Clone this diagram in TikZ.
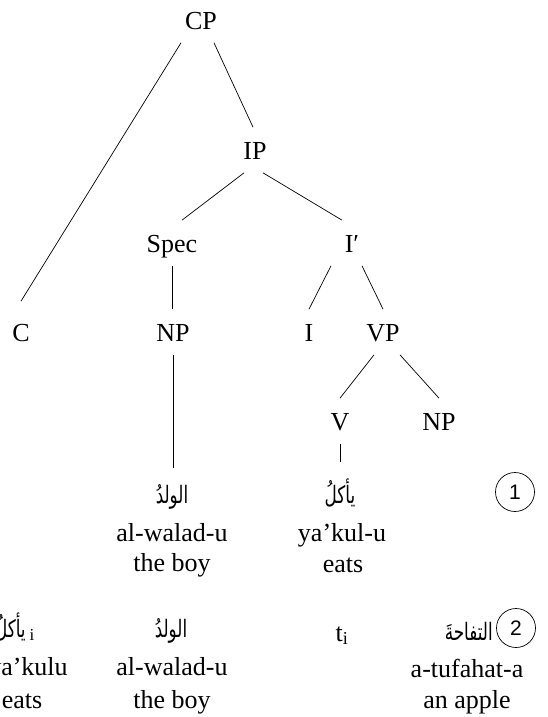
\documentclass[tikz,border=0pt]{standalone}
\usepackage{fontspec}
\setmainfont{Liberation Serif}
\setsansfont{Liberation Sans}
\newfontfamily\arabicfont[Script=Arabic, FakeStretch=0.7]{DejaVu Sans}
\TeXXeTstate=1
\usepackage{tikz}

\tikzset{
  tnode/.style={font=\fontsize{26}{30}\selectfont, inner xsep=2pt, inner ysep=13pt, text height=19pt, text depth=0pt},
  arab/.style={font=\fontsize{24}{28}\arabicfont, anchor=base, inner xsep=0pt, inner ysep=16pt},
  gl/.style={font=\fontsize{26}{30}\selectfont, anchor=base, inner sep=0pt},
  num/.style={draw, circle, minimum size=39pt, inner sep=0pt, font=\sffamily\fontsize{21}{24}\selectfont}
}

\begin{document}
\begin{tikzpicture}[x=1pt, y=-1pt, line width=0.7pt]
\useasboundingbox (0,0) rectangle (548,717);

% tree
\node[tnode] (cp) at (201,20) {CP};
\node[tnode] (ip) at (255,150) {IP};
\node[tnode] (spec) at (172,243) {Spec};
\node[tnode] (ibar) at (352,243) {I′};
\node[tnode] (c) at (21,332) {C};
\node[tnode] (np) at (173,332) {NP};
\node[tnode] (i) at (309,332) {I};
\node[tnode] (vp) at (383,332) {VP};
\node[tnode] (v) at (340,421) {V};
\node[tnode] (npo) at (439,421) {NP};

\draw ([xshift=-20pt]cp.south) -- ([yshift=8pt]c.north);
\draw ([xshift=13pt]cp.south) -- ([xshift=-2pt]ip.north);
\draw ([xshift=-11pt]ip.south) -- ([xshift=10pt]spec.north);
\draw ([xshift=8pt]ip.south) -- ([xshift=-10pt]ibar.north);
\draw (spec.south) -- (spec.south |- np.north);
\draw ([xshift=-21pt]ibar.south) -- (i.north);
\draw ([xshift=10pt]ibar.south) -- (vp.north);
\draw ([xshift=-9pt]vp.south) -- (v.north);
\draw ([xshift=17pt]vp.south) -- (npo.north);

% first line of words
\node[arab] (walad) at (172,503) {\beginR الولدُ\endR};
\node[gl] (walad-t) at (172,541) {al-walad-u};
\node[gl] (walad-g) at (172,571) {the boy};
\node[arab] (yakul) at (340,503) {\beginR يأكلُ\endR};
\node[gl] (yakul-t) at (342,541) {ya’kul-u};
\node[gl] (yakul-g) at (343,572) {eats};
\node[num] (one) at (515,492) {1};

\draw (np.south) -- (np.south |- walad.north);
\draw (v.south) -- (v.south |- yakul.north);

% second line of words
\node[arab] (yakul2) at (15,637) {\beginR يأكلُ\endR\,{\rmfamily\textsubscript{i}}};
\node[gl] (yakul2-t) at (28,675) {ya’kulu};
\node[gl] (yakul2-g) at (22,708) {eats};
\node[arab] (walad2) at (171,637) {\beginR الولدُ\endR};
\node[gl] (walad2-t) at (172,675) {al-walad-u};
\node[gl] (walad2-g) at (172,708) {the boy};
\node[gl] (trace) at (342,641) {t\textsubscript{i}};
\node[arab, anchor=base east] (tuf) at (493,640) {\beginR التفاحةَ\endR};
\node[gl] (tuf-t) at (467,677) {a-tufahat-a};
\node[gl] (tuf-g) at (467,708) {an apple};
\node[num] (two) at (516,628) {2};

\end{tikzpicture}
\end{document}
